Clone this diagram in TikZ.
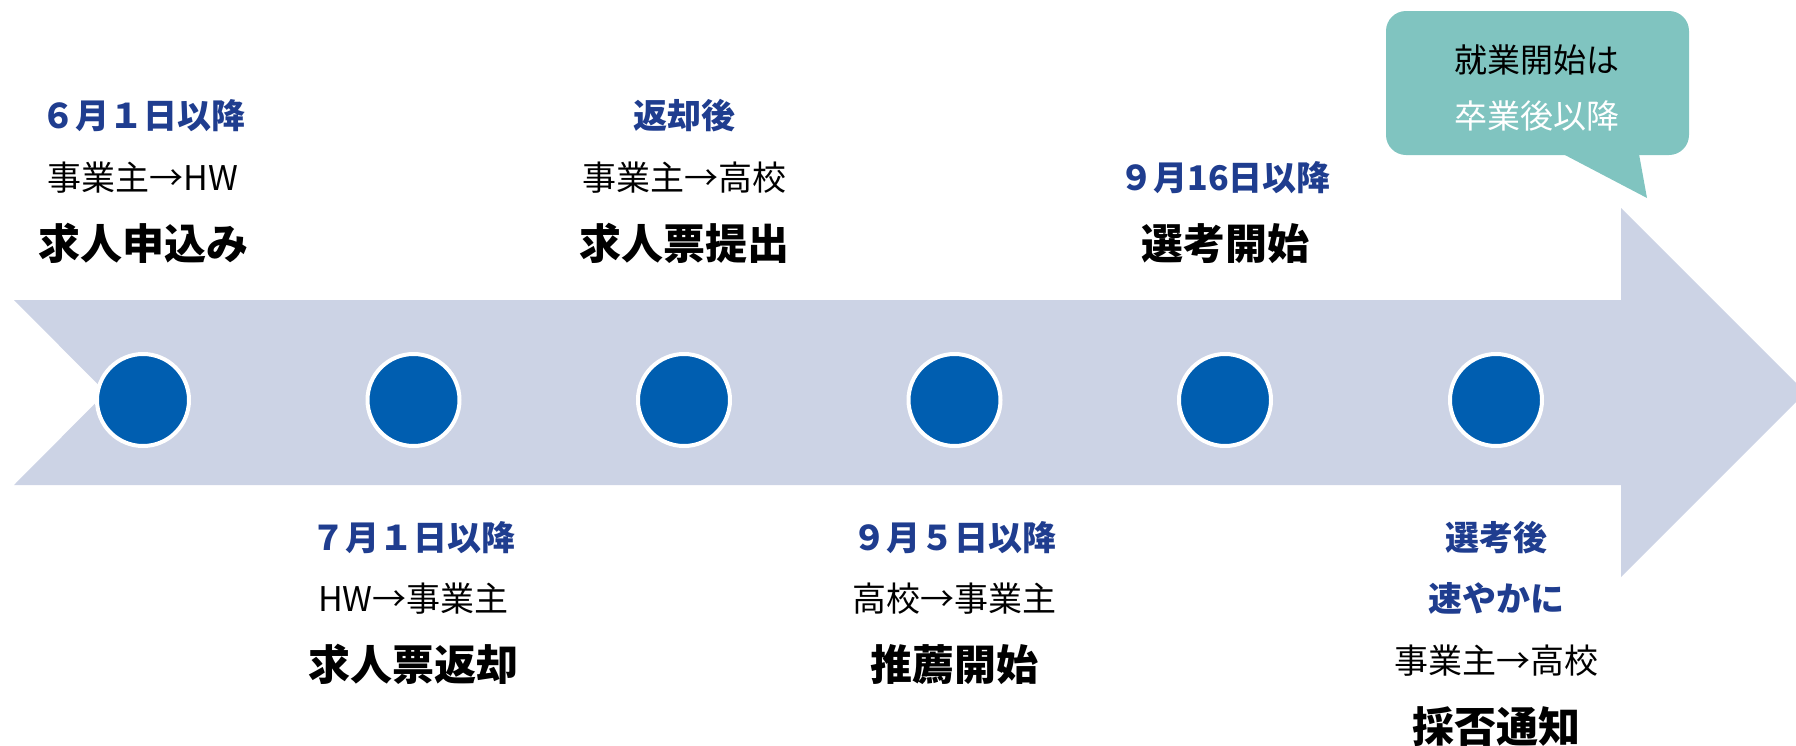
\documentclass[tikz,border=0pt]{standalone}
\usepackage{fontspec}
\setmainfont{Noto Sans CJK JP}
\definecolor{band}{HTML}{CCD3E5}
\definecolor{dot}{HTML}{005EB0}
\definecolor{datec}{HTML}{1F3D8F}
\definecolor{teal}{HTML}{80C4C0}
\tikzset{
  dotnode/.style={circle,fill=dot,draw=white,line width=4pt,minimum size=92pt,inner sep=0pt},
  datetxt/.style={anchor=base,inner sep=0pt,text=datec,font=\fontsize{34}{34}\selectfont\bfseries},
  subtxt/.style={anchor=base,inner sep=0pt,text=black,font=\fontsize{34}{34}\selectfont},
  calltxt/.style={anchor=base,inner sep=0pt,text=black,font=\fontsize{33}{33}\selectfont},
  titletxt/.style={anchor=base,inner sep=0pt,text=black,font=\fontsize{42}{42}\selectfont\bfseries},
}
\begin{document}
\begin{tikzpicture}[x=1pt,y=-1pt]
\useasboundingbox (0,0) rectangle (1796,745);
% arrow band
\fill[band] (14,300) -- (1621,300) -- (1621,208) -- (1796,383) -- (1796,402) -- (1621,577) -- (1621,485) -- (14,485) -- (106,392.5) -- cycle;
% callout
\fill[teal,rounded corners=20pt] (1386,11) rectangle (1689,155);
\fill[teal] (1563,154) -- (1639,154) -- (1647,198) -- cycle;
\node[calltxt] (c1) at (1537,72) {就業開始は};
\node[calltxt,text=white] (c2) at (1537,128) {卒業後以降};
% dots
\foreach \i/\x in {1/143,2/413.5,3/684,4/954.5,5/1225,6/1496}{
  \node[dotnode] (d\i) at (\x,400) {};
}
% stage 1
\node[datetxt] (a1) at (143,128) {６月１日以降};
\node[subtxt] (b1) at (143,190) {事業主→HW};
\node[titletxt] (t1) at (143,259) {求人申込み};
% stage 2
\node[datetxt] (a2) at (413.5,550) {７月１日以降};
\node[subtxt] (b2) at (413.5,611) {HW→事業主};
\node[titletxt] (t2) at (413.5,680) {求人票返却};
% stage 3
\node[datetxt] (a3) at (684,128) {返却後};
\node[subtxt] (b3) at (684,190) {事業主→高校};
\node[titletxt] (t3) at (684,259) {求人票提出};
% stage 4
\node[datetxt] (a4) at (954.5,550) {９月５日以降};
\node[subtxt] (b4) at (954.5,611) {高校→事業主};
\node[titletxt] (t4) at (954.5,680) {推薦開始};
% stage 5
\node[datetxt] (b5) at (1225,190) {９月16日以降};
\node[titletxt] (t5) at (1225,259) {選考開始};
% stage 6
\node[datetxt] (a6) at (1496,550) {選考後};
\node[datetxt] (a6b) at (1496,611) {速やかに};
\node[subtxt] (b6) at (1496,673) {事業主→高校};
\node[titletxt] (t6) at (1496,742) {採否通知};
\end{tikzpicture}
\end{document}
